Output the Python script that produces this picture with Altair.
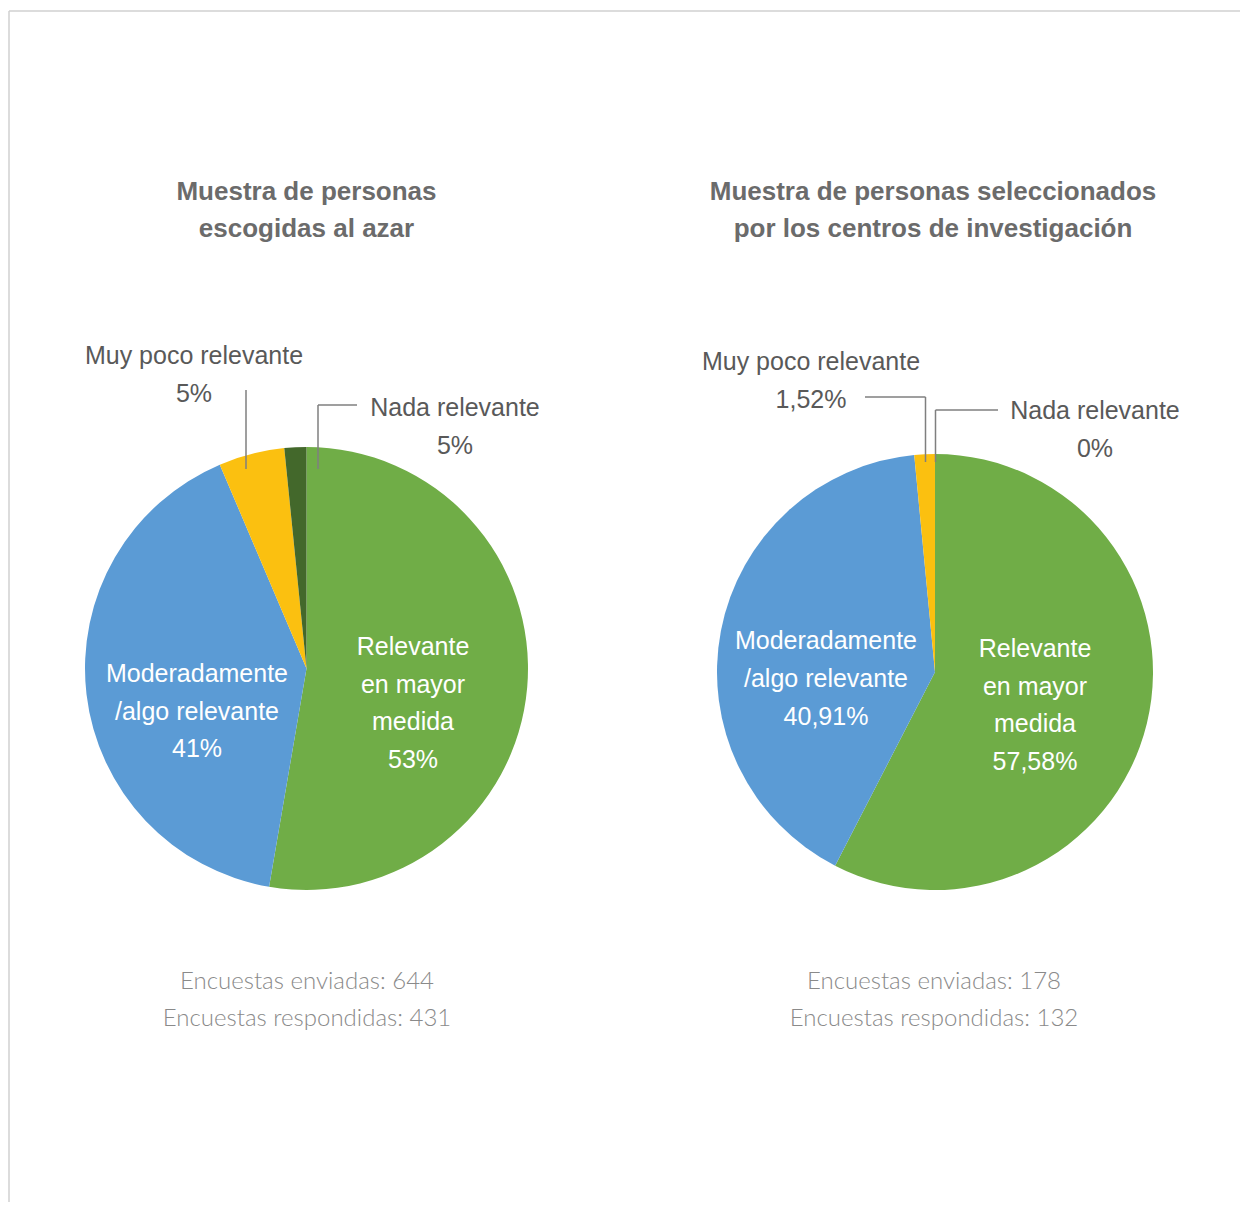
import altair as alt
import pandas as pd

# ---------------- data ----------------
categories = ["Relevante en mayor medida", "Moderadamente /algo relevante",
              "Muy poco relevante", "Nada relevante"]
left_values = [52.7, 40.9, 4.8, 1.6]        # slice sizes
right_values = [57.58, 40.91, 1.52, 0.0]
colors = ["#70AD47", "#5B9BD5", "#FBC010", "#43682B"]

left_title = ["Muestra de personas", "escogidas al azar"]
right_title = ["Muestra de personas seleccionados", "por los centros de investigación"]

left_green_label = ["Relevante", "en mayor", "medida", "53%"]
left_blue_label = ["Moderadamente", "/algo relevante", "41%"]
left_yellow_label = ["Muy poco relevante", "5%"]
left_dark_label = ["Nada relevante", "5%"]

right_green_label = ["Relevante", "en mayor", "medida", "57,58%"]
right_blue_label = ["Moderadamente", "/algo relevante", "40,91%"]
right_yellow_label = ["Muy poco relevante", "1,52%"]
right_dark_label = ["Nada relevante", "0%"]

left_footer = ["Encuestas enviadas: 644", "Encuestas respondidas: 431"]
right_footer = ["Encuestas enviadas: 178", "Encuestas respondidas: 132"]

# ---------------- layout ----------------
OFF = 8  # page margin
W, H = 1232, 1194
FONT = "Liberation Sans"
LIGHT_FONT = "Lato"


def pie_df(values):
    return pd.DataFrame({"cat": categories, "val": values, "ord": list(range(len(categories)))})


def pie(values, cx, cy, r):
    return alt.Chart(pie_df(values)).mark_arc(radius=r, stroke=None).encode(
        theta=alt.Theta("val:Q", stack=True),
        color=alt.Color("cat:N", scale=alt.Scale(domain=categories, range=colors), legend=None),
        order=alt.Order("ord:Q"),
        x=alt.value(cx - OFF),
        y=alt.value(cy - OFF),
    )


def label(lines, x, y0, lh=37.5, size=25, color="#595959", weight="normal", font=FONT):
    layers = []
    for i, line in enumerate(lines):
        layers.append(
            alt.Chart(pd.DataFrame({"t": [line]})).mark_text(
                font=font, fontSize=size, fontWeight=weight, color=color,
                align="center", baseline="middle",
            ).encode(text="t:N", x=alt.value(x - OFF), y=alt.value(y0 + i * lh - OFF))
        )
    return layers


def seg(x1, y1, x2, y2, color="#7F7F7F", w=1.5):
    return alt.Chart(pd.DataFrame({"a": [0]})).mark_rule(color=color, strokeWidth=w).encode(
        x=alt.value(x1 - OFF), x2=alt.value(x2 - OFF), y=alt.value(y1 - OFF), y2=alt.value(y2 - OFF)
    )


layers = []
# frame
layers.append(seg(9, 11, 1260, 11, color="#D0D0D0", w=1.5))
layers.append(seg(9, 11, 9, 1230, color="#D0D0D0", w=1.5))

# pies
layers.append(pie(left_values, 306.5, 668.5, 221.5))
layers.append(pie(right_values, 935, 672, 218))

# leader lines
layers.append(seg(246, 390, 246, 469))
layers.append(seg(318, 405, 357, 405))
layers.append(seg(318, 405, 318, 469))
layers.append(seg(865, 397, 925.5, 397))
layers.append(seg(925.5, 397, 925.5, 462))
layers.append(seg(935.5, 410, 998, 410))
layers.append(seg(935.5, 410, 935.5, 462))

# titles
layers += label(left_title, 306.5, 191.5, lh=37, size=26, color="#6B6B6B", weight="bold")
layers += label(right_title, 933, 191.5, lh=37, size=26, color="#6B6B6B", weight="bold")

# slice labels
layers += label(left_green_label, 413, 647, color="white")
layers += label(left_blue_label, 197, 674, color="white")
layers += label(left_yellow_label, 194, 356)
layers += label(left_dark_label, 455, 408)

layers += label(right_green_label, 1035, 649, color="white")
layers += label(right_blue_label, 826, 641, lh=38, color="white")
layers += label(right_yellow_label, 811, 362)
layers += label(right_dark_label, 1095, 411)

# footers
layers += label(left_footer, 307, 982, lh=37, size=24, color="#8A8A8A", weight=300, font=LIGHT_FONT)
layers += label(right_footer, 934, 982, lh=37, size=24, color="#8A8A8A", weight=300, font=LIGHT_FONT)

chart = alt.layer(*layers).properties(
    width=W, height=H, padding=0, autosize=alt.AutoSizeParams(type="none")
).configure_view(stroke=None).resolve_scale(theta="independent")

chart.save("out.html", embed_options={"renderer": "svg", "actions": False})
